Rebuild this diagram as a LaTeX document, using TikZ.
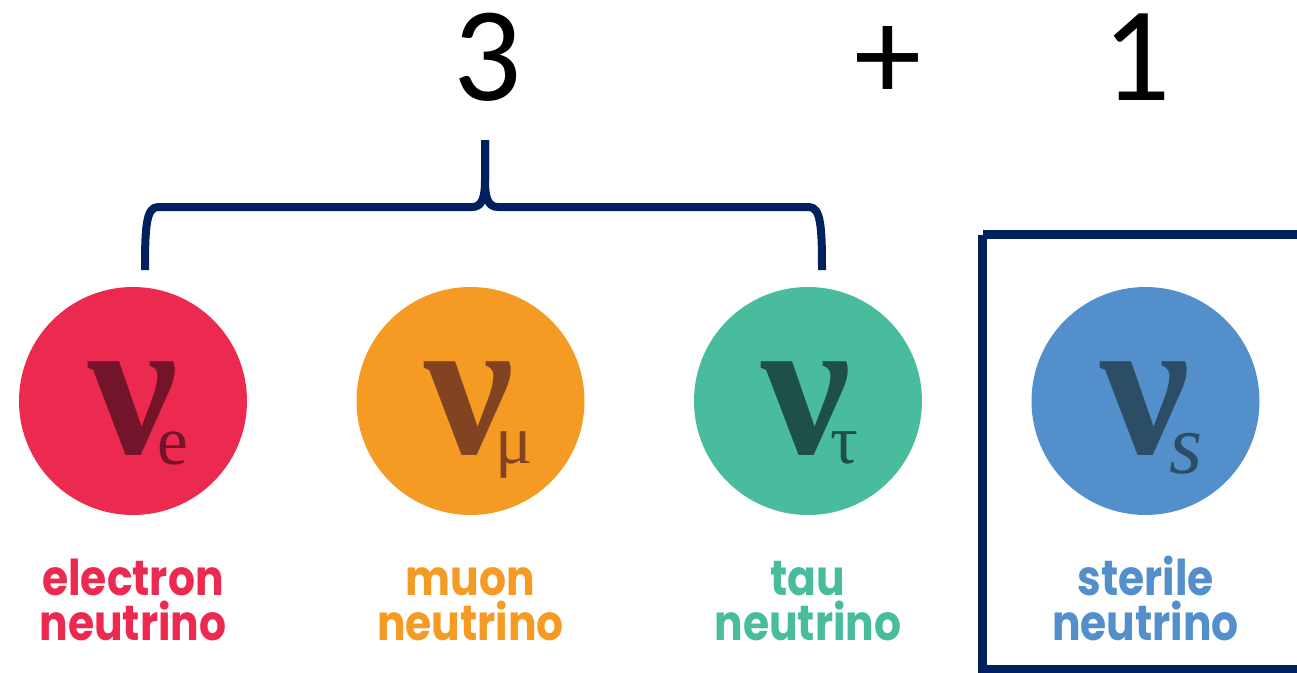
\documentclass[tikz,border=0pt]{standalone}
\usepackage{fontspec}
\newfontfamily\numfont{Carlito}
\newfontfamily\labfont{Poppins}[FakeStretch=0.86]
\newfontfamily\nufont{Liberation Serif}
\definecolor{cred}{HTML}{EC2A4F}
\definecolor{dred}{HTML}{74142A}
\definecolor{corange}{HTML}{F59A23}
\definecolor{dorange}{HTML}{824321}
\definecolor{cgreen}{HTML}{48BC9D}
\definecolor{dgreen}{HTML}{1E4F48}
\definecolor{cblue}{HTML}{5390CB}
\definecolor{dblue}{HTML}{2C4D66}
\definecolor{navy}{HTML}{00215E}
\newcommand\nusub[4]{ν\rlap{\hspace{#1}\raisebox{#2}{\mdseries\fontsize{#4}{#4}\selectfont #3}}}
\tikzset{
  ball/.style={circle, minimum size=171pt, inner sep=0pt},
  nusym/.style={inner sep=0pt, anchor=base, font=\nufont\bfseries\fontsize{150}{150}\selectfont},
  lab/.style={inner sep=0pt, anchor=base, align=center, font=\labfont\bfseries\fontsize{37}{33}\selectfont},
  big/.style={inner sep=0pt, anchor=base, font=\numfont\fontsize{101}{101}\selectfont},
  bracepath/.style={draw=navy, line width=6pt, line join=round},
}
\begin{document}
\begin{tikzpicture}[x=0.75pt,y=-0.75pt]
\useasboundingbox (0,0) rectangle (1297,672);
\clip (0,0) rectangle (1297,672);
% top numbers
\node[big] (three) at (488,100) {3};
\node[big] (plus) at (888,100) {+};
\node[big] (one) at (1137,100) {1};
% circles
\node[ball, fill=cred] (ce) at (133,401) {};
\node[ball, fill=corange] (cm) at (470.5,401) {};
\node[ball, fill=cgreen] (ct) at (808,401) {};
\node[ball, fill=cblue] (cs) at (1145.5,401) {};
% nu symbols
\node[nusym, text=dred] (nue) at (133,453) {\nusub{-15pt}{-8.25pt}{e}{52}};
\node[nusym, text=dorange] (num) at (469,453) {\nusub{-13.5pt}{-7.5pt}{μ}{52}};
\node[nusym, text=dgreen] (nut) at (806,453) {\nusub{-15pt}{-7.5pt}{τ}{52}};
\node[nusym, text=dblue] (nus) at (1145,453) {\nusub{-15pt}{-15pt}{\itshape s}{64}};
% labels
\node[lab, text=cred] (le1) at (133,595) {electron};
\node[lab, text=cred] (le2) at (133,640) {neutrino};
\node[lab, text=corange] (lm1) at (470.5,595) {muon};
\node[lab, text=corange] (lm2) at (470.5,640) {neutrino};
\node[lab, text=cgreen] (lt1) at (808,595) {tau};
\node[lab, text=cgreen] (lt2) at (808,640) {neutrino};
\node[lab, text=cblue] (ls1) at (1145.5,595) {sterile};
\node[lab, text=cblue] (ls2) at (1145.5,640) {neutrino};
% brace
\coordinate (bl) at (145,270);
\coordinate (br) at (822,270);
\coordinate (btop) at (485,140);
\draw[bracepath] (bl) .. controls (145,228) and (146,207) .. (158,207) -- (472,207)
  .. controls (482,207) and (485,198) .. (485,180) -- (btop);
\draw[bracepath] (br) .. controls (822,228) and (821,207) .. (809,207) -- (498,207)
  .. controls (488,207) and (485,198) .. (485,180) -- (btop);
% box
\draw[navy, line width=6.75pt] (982.5,234.5) -- (1310,234.5) (982.5,234.5) -- (982.5,669.5) -- (1310,669.5);
\end{tikzpicture}
\end{document}
